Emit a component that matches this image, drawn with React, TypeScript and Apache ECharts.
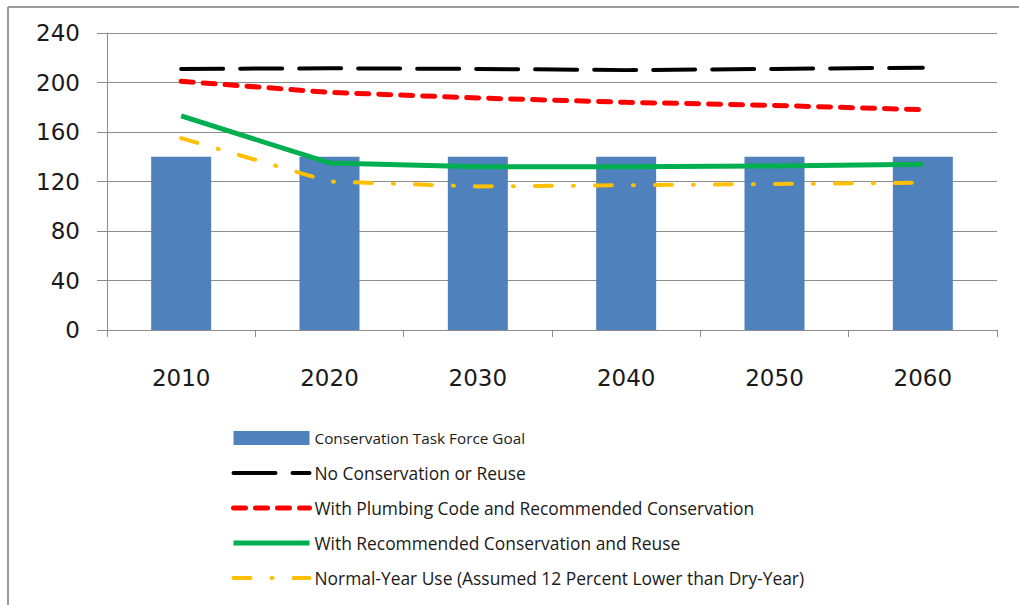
import React, { useEffect, useRef } from "react";
import * as echarts from "echarts";

const categories = ["2010", "2020", "2030", "2040", "2050", "2060"];
const yTicks = [0, 40, 80, 120, 160, 200, 240];
const goal = [140, 140, 140, 140, 140, 140];
const noConservation = [211, 211.5, 211, 210, 211, 212];
const plumbing = [201, 192, 187.5, 184, 181.5, 178];
const recommended = [173, 135, 132, 132, 132.5, 134];
const normalYear = [155, 120, 116, 117, 118, 119];

const names = [
  "Conservation Task Force Goal",
  "No Conservation or Reuse",
  "With Plumbing Code and Recommended Conservation",
  "With Recommended Conservation and Reuse",
  "Normal-Year Use (Assumed 12 Percent Lower than Dry-Year)",
];

const blackStyle = { color: "#000000", width: 4, type: [42, 17], cap: "round" };
const redStyle = { color: "#FF0000", width: 5, type: [12, 10], cap: "round" };
const greenStyle = { color: "#00B050", width: 5, type: "solid" };
const yellowStyle = { color: "#FFC000", width: 4, type: [17, 21, 1, 21], cap: "round" };

export default function App() {
  const ref = useRef<HTMLDivElement>(null);
  useEffect(() => {
    if (!ref.current) return;
    const chart = echarts.init(ref.current, undefined, { renderer: "svg" });
    const axisFont = { fontFamily: "DejaVu Sans", fontSize: 23, color: "#1a1a1a" };
    const legendText = { fontFamily: "Open Sans", fontSize: 17.4, lineHeight: 18, color: "#1a1a1a" };
    const hiddenSymbol = { opacity: 0 };
    chart.setOption({
      animation: false,
      backgroundColor: "#ffffff",
      grid: { left: 107, right: 22, top: 33, bottom: 275 },
      legend: {
        orient: "vertical",
        left: 231,
        top: 429,
        padding: 0,
        itemWidth: 76,
        itemHeight: 14,
        itemGap: 17,
        textStyle: legendText,
        data: [
          { name: names[0], icon: "rect", textStyle: { ...legendText, fontSize: 15.3 } },
          { name: names[1], itemStyle: hiddenSymbol, lineStyle: blackStyle },
          { name: names[2], itemStyle: hiddenSymbol, lineStyle: redStyle },
          { name: names[3], itemStyle: hiddenSymbol, lineStyle: greenStyle },
          { name: names[4], itemStyle: hiddenSymbol, lineStyle: yellowStyle },
        ],
      },
      xAxis: {
        type: "category",
        data: categories,
        boundaryGap: true,
        axisLine: { lineStyle: { color: "#8c8c8c", width: 1 } },
        axisTick: { show: true, length: 7, inside: false, lineStyle: { color: "#8c8c8c" } },
        axisLabel: { ...axisFont, margin: 36 },
        splitLine: { show: false },
      },
      yAxis: {
        type: "value",
        min: 0,
        max: 240,
        interval: 40,
        axisLine: { show: true, lineStyle: { color: "#8c8c8c", width: 1 } },
        axisTick: { show: true, length: 10, lineStyle: { color: "#8c8c8c" } },
        axisLabel: {
          ...axisFont,
          margin: 27,
          formatter: (v: number) => (yTicks.includes(v) ? String(v) : ""),
        },
        splitLine: { show: true, lineStyle: { color: "#8c8c8c", width: 1 } },
      },
      series: [
        {
          name: names[0],
          type: "bar",
          data: goal,
          barWidth: 60,
          itemStyle: { color: "#4F81BD" },
          z: 1,
        },
        {
          name: names[1],
          type: "line",
          data: noConservation,
          symbol: "none",
          lineStyle: blackStyle,
          itemStyle: { color: "#000000" },
          z: 3,
        },
        {
          name: names[2],
          type: "line",
          data: plumbing,
          symbol: "none",
          lineStyle: redStyle,
          itemStyle: { color: "#FF0000" },
          z: 3,
        },
        {
          name: names[3],
          type: "line",
          data: recommended,
          symbol: "none",
          lineStyle: greenStyle,
          itemStyle: { color: "#00B050" },
          z: 3,
        },
        {
          name: names[4],
          type: "line",
          data: normalYear,
          symbol: "none",
          lineStyle: yellowStyle,
          itemStyle: { color: "#FFC000" },
          z: 3,
        },
      ],
      graphic: [
        {
          type: "line",
          shape: { x1: 8, y1: 7, x2: 1019, y2: 7 },
          style: { stroke: "#9a9a9a", lineWidth: 2 },
          silent: true,
        },
        {
          type: "line",
          shape: { x1: 8, y1: 7, x2: 8, y2: 605 },
          style: { stroke: "#9a9a9a", lineWidth: 2 },
          silent: true,
        },
      ],
    });
    return () => chart.dispose();
  }, []);
  return (
    <div
      ref={ref}
      style={{ position: "fixed", left: 0, top: 0, width: 1019, height: 605 }}
    />
  );
}
